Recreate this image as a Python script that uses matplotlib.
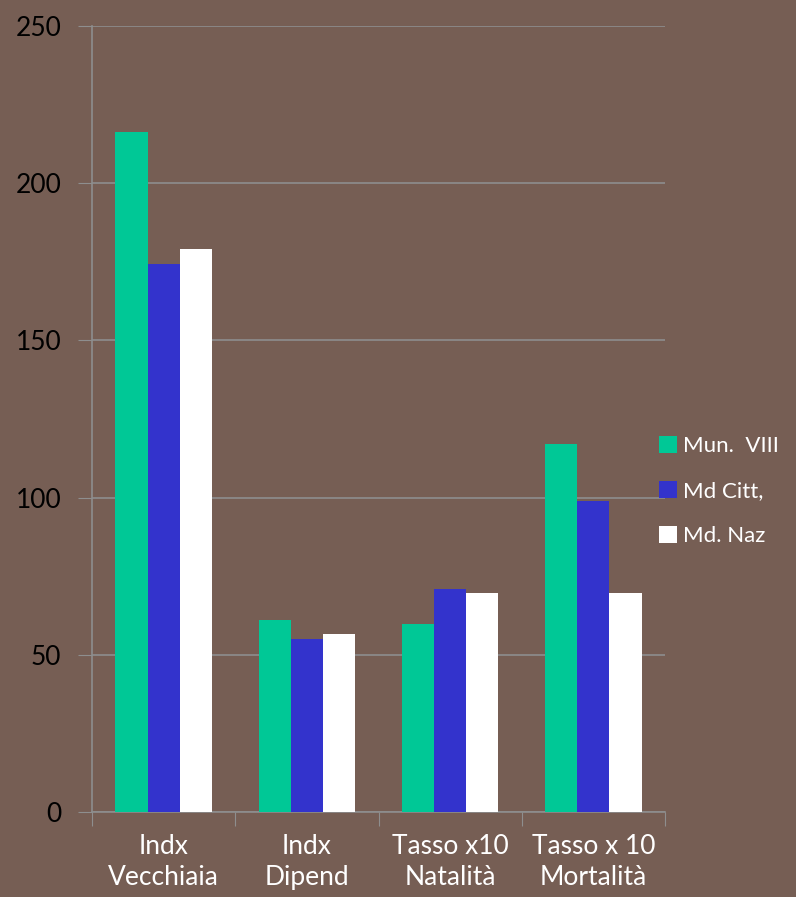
import matplotlib

matplotlib.use("Agg")
import matplotlib.pyplot as plt  # noqa: E402
import numpy as np  # noqa: E402
from matplotlib.patches import Patch  # noqa: E402

BG = "#765e54"
GRID = "#8e8e8e"
COLORS = ["#00c896", "#3333cc", "#ffffff"]

categories = ["Indx\nVecchiaia", "Indx\nDipend", "Tasso x10\nNatalità", "Tasso x 10\nMortalità"]
series_names = ["Mun.  VIII", "Md Citt,", "Md. Naz"]
mun_viii = [216.3, 61.1, 59.8, 117.0]
md_citt = [174.3, 55.0, 70.9, 98.9]
md_naz = [179.1, 56.6, 69.7, 69.7]
y_ticks = [0, 50, 100, 150, 200, 250]

plt.rcParams["font.family"] = ["Lato", "DejaVu Sans"]

fig = plt.figure(figsize=(7.96, 8.97), dpi=100, facecolor=BG)
ax = fig.add_axes([92 / 796, 85 / 897, 573 / 796, 786 / 897], facecolor=BG)

x = np.arange(len(categories))
width = 0.224
for i, (vals, color) in enumerate(zip([mun_viii, md_citt, md_naz], COLORS)):
    ax.bar(x + (i - 1) * width, vals, width, color=color, zorder=3)

ax.set_xlim(-0.5, len(categories) - 0.5)
ax.set_ylim(0, 250)
ax.set_yticks(y_ticks)
ax.set_yticklabels([str(v) for v in y_ticks], fontsize=19, color="black")
ax.yaxis.grid(True, color=GRID, linewidth=1.2, zorder=0)
ax.tick_params(axis="y", length=10, color=GRID, pad=12)

# tick marks at category borders, labels centred under groups
ax.set_xticks(np.arange(-0.5, len(categories)), minor=False)
ax.set_xticklabels([])
ax.tick_params(axis="x", length=10, color=GRID)
ax.set_xticks(x, minor=True)
ax.set_xticklabels(categories, minor=True, fontsize=19, color="white", linespacing=1.3)
ax.tick_params(axis="x", which="minor", length=0, pad=16)

for side in ["top", "right"]:
    ax.spines[side].set_visible(False)
for side in ["left", "bottom"]:
    ax.spines[side].set_color(GRID)
    ax.spines[side].set_linewidth(1.2)

handles = [Patch(facecolor=c, edgecolor="none") for c in COLORS]
fig.legend(
    handles, series_names, loc="center left", bbox_to_anchor=(646 / 796, (897 - 491) / 897),
    frameon=False, fontsize=16, labelcolor="white", handlelength=0.8, handleheight=0.8,
    handletextpad=0.25, labelspacing=1.1, borderaxespad=0.2,
)

fig.savefig("out.png", dpi=100, facecolor=BG)
